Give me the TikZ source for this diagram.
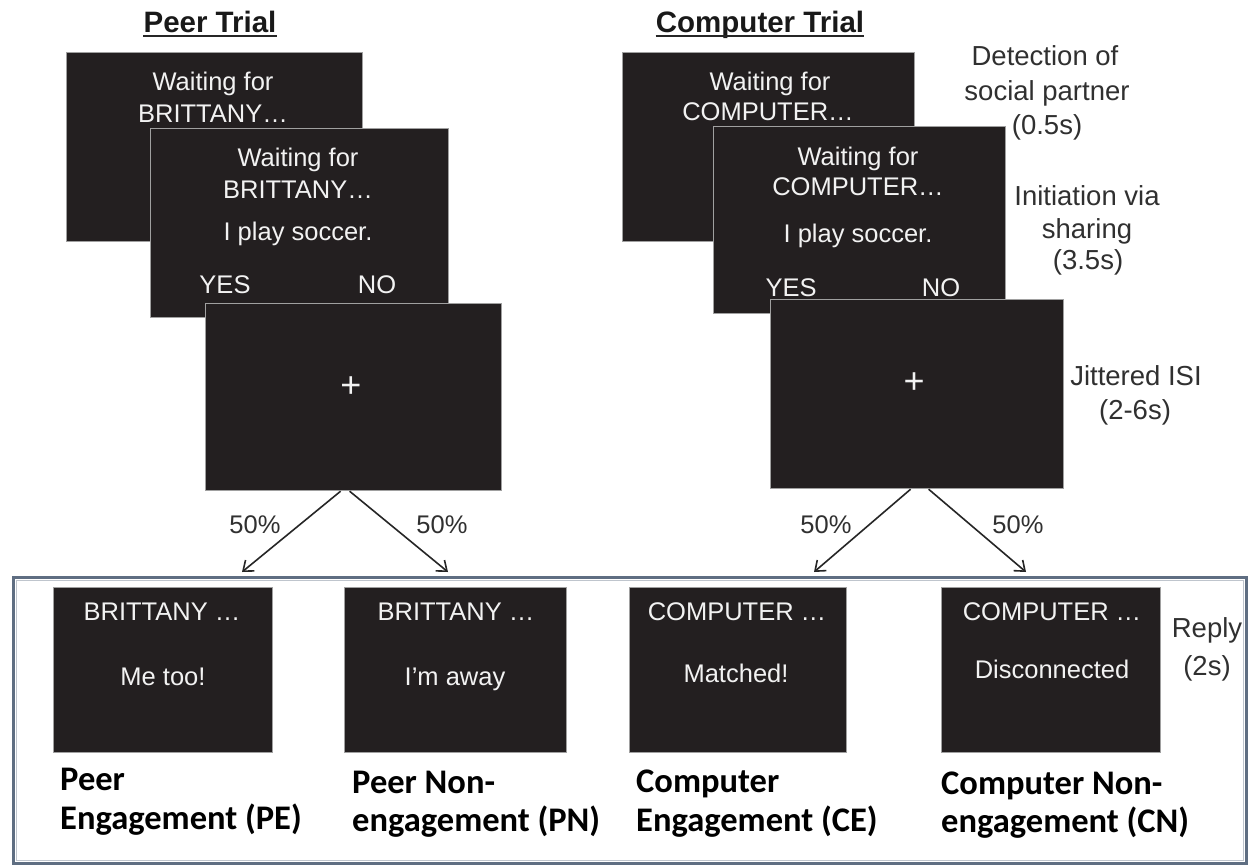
\documentclass[tikz,border=0pt]{standalone}
\usepackage{fontspec}
\setmainfont{Liberation Sans}
\newfontfamily\labfont{Carlito}
\usetikzlibrary{arrows.meta}
\definecolor{scr}{HTML}{231F20}
\definecolor{scredge}{HTML}{A0A0A0}
\definecolor{framec}{HTML}{5F6E82}
\definecolor{txt}{HTML}{303030}
\definecolor{stxt}{HTML}{F2F2F2}
\begin{document}
\begin{tikzpicture}[x=1pt,y=-1pt,
  screen/.style={fill=scr, draw=scredge, line width=1.2pt, inner sep=0pt, anchor=north west},
  st/.style={text=stxt, font=\fontsize{25.5}{30}\selectfont, inner sep=0pt, anchor=base},
  plus/.style={text=stxt, font=\fontsize{36}{40}\selectfont, inner sep=0pt, anchor=center},
  side/.style={text=txt, font=\fontsize{27.5}{34}\selectfont, inner sep=0pt, anchor=base},
  pct/.style={text=txt, font=\fontsize{25.5}{30}\selectfont, inner sep=0pt, anchor=base},
  ttl/.style={text=black!90, font=\fontsize{29.5}{34}\selectfont\bfseries, inner sep=0pt, anchor=base},
  lab/.style={text=black, font=\fontsize{34.5}{40}\selectfont\labfont\bfseries, inner sep=0pt, anchor=base west},
  arr/.style={draw=black!85, line width=1.6pt, -{Straight Barb[length=9pt,width=14pt]}}
]
\useasboundingbox (0,0) rectangle (1249,867);
\fill[white] (0,0) rectangle (1249,867);

% titles
\node[ttl] (tp) at (210,33) {Peer Trial};
\node[ttl] (tc) at (760,33) {Computer Trial};
\draw[line width=2pt, black!85] ([yshift=-3.5pt]tp.base west) -- ([yshift=-3.5pt]tp.base east);
\draw[line width=2pt, black!85] ([yshift=-3.5pt]tc.base west) -- ([yshift=-3.5pt]tc.base east);

% peer trial screens
\node[screen, minimum width=296pt, minimum height=189pt] (P1) at (66,52) {};
\node[st] (p1a) at (213,90) {Waiting for};
\node[st] (p1b) at (213,122) {BRITTANY…};
\node[screen, minimum width=298pt, minimum height=189pt] (P2) at (150,128) {};
\node[st] (p2a) at (298,166) {Waiting for};
\node[st] (p2b) at (298,198) {BRITTANY…};
\node[st] (p2c) at (298,240) {I play soccer.};
\node[st] (p2y) at (225,293) {YES};
\node[st] (p2n) at (377,293) {NO};
\node[screen, minimum width=296pt, minimum height=187pt] (P3) at (205,303) {};
\node[plus] (p3x) at (351,387) {+};

% computer trial screens
\node[screen, minimum width=292pt, minimum height=189pt] (C1) at (622,52) {};
\node[st] (c1a) at (770,90) {Waiting for};
\node[st] (c1b) at (768,120) {COMPUTER…};
\node[screen, minimum width=292pt, minimum height=187pt] (C2) at (713,126) {};
\node[st] (c2a) at (858,165) {Waiting for};
\node[st] (c2b) at (858,195) {COMPUTER…};
\node[st] (c2c) at (858,242) {I play soccer.};
\node[st] (c2y) at (791,296) {YES};
\node[st] (c2n) at (941,296) {NO};
\node[screen, minimum width=293pt, minimum height=189pt] (C3) at (770,299) {};
\node[plus] (c3x) at (914,383) {+};

% side labels
\node[side] (d1) at (1045,66) {Detection of};
\node[side] (d2) at (1047,100) {social partner};
\node[side] (d3) at (1047,134) {(0.5s)};
\node[side] (i1) at (1087,205) {Initiation via};
\node[side] (i2) at (1087,238) {sharing};
\node[side] (i3) at (1088,269) {(3.5s)};
\node[side] (j1) at (1136,385) {Jittered ISI};
\node[side] (j2) at (1135,419) {(2-6s)};

% outcome frame
\draw[draw=framec, line width=3pt] (13,577) rectangle (1246,863);
\draw[draw=framec!40, line width=1pt] (16,580) rectangle (1243,860);

% arrows
\coordinate (pl) at (242,572);
\coordinate (pr) at (448,572);
\coordinate (cl) at (814,572);
\coordinate (cr) at (1026,572);
\draw[arr] ([xshift=-13pt]P3.south) -- (pl);
\draw[arr] ([xshift=-4pt]P3.south) -- (pr);
\draw[arr] ([xshift=-6.5pt]C3.south) -- (cl);
\draw[arr] ([xshift=11.5pt]C3.south) -- (cr);
\node[pct] (q1) at (255,533) {50\%};
\node[pct] (q2) at (442,533) {50\%};
\node[pct] (q3) at (826,533) {50\%};
\node[pct] (q4) at (1018,533) {50\%};

% reply screens
\node[screen, minimum width=219pt, minimum height=165pt] (PE) at (53,587) {};
\node[st] (pe1) at (162,620) {BRITTANY …};
\node[st] (pe2) at (163,685) {Me too!};
\node[screen, minimum width=222pt, minimum height=165pt] (PN) at (344,587) {};
\node[st] (pn1) at (456,620) {BRITTANY …};
\node[st] (pn2) at (455,685) {I’m away};
\node[screen, minimum width=217pt, minimum height=165pt] (CE) at (629,587) {};
\node[st] (ce1) at (737,620) {COMPUTER …};
\node[st] (ce2) at (736,682) {Matched!};
\node[screen, minimum width=219pt, minimum height=165pt] (CN) at (941,587) {};
\node[st] (cn1) at (1052,620) {COMPUTER …};
\node[st] (cn2) at (1052,678) {Disconnected};
\node[side] (r1) at (1207,637) {Reply};
\node[side] (r2) at (1207,675) {(2s)};

% condition labels
\node[lab] (l1a) at (60,790) {Peer};
\node[lab] (l1b) at (60,829) {Engagement (PE)};
\node[lab] (l2a) at (352,793) {Peer Non-};
\node[lab] (l2b) at (352,831) {engagement (PN)};
\node[lab] (l3a) at (636,792) {Computer};
\node[lab] (l3b) at (636,831) {Engagement (CE)};
\node[lab] (l4a) at (941,794) {Computer Non-};
\node[lab] (l4b) at (941,832) {engagement (CN)};
\end{tikzpicture}
\end{document}
